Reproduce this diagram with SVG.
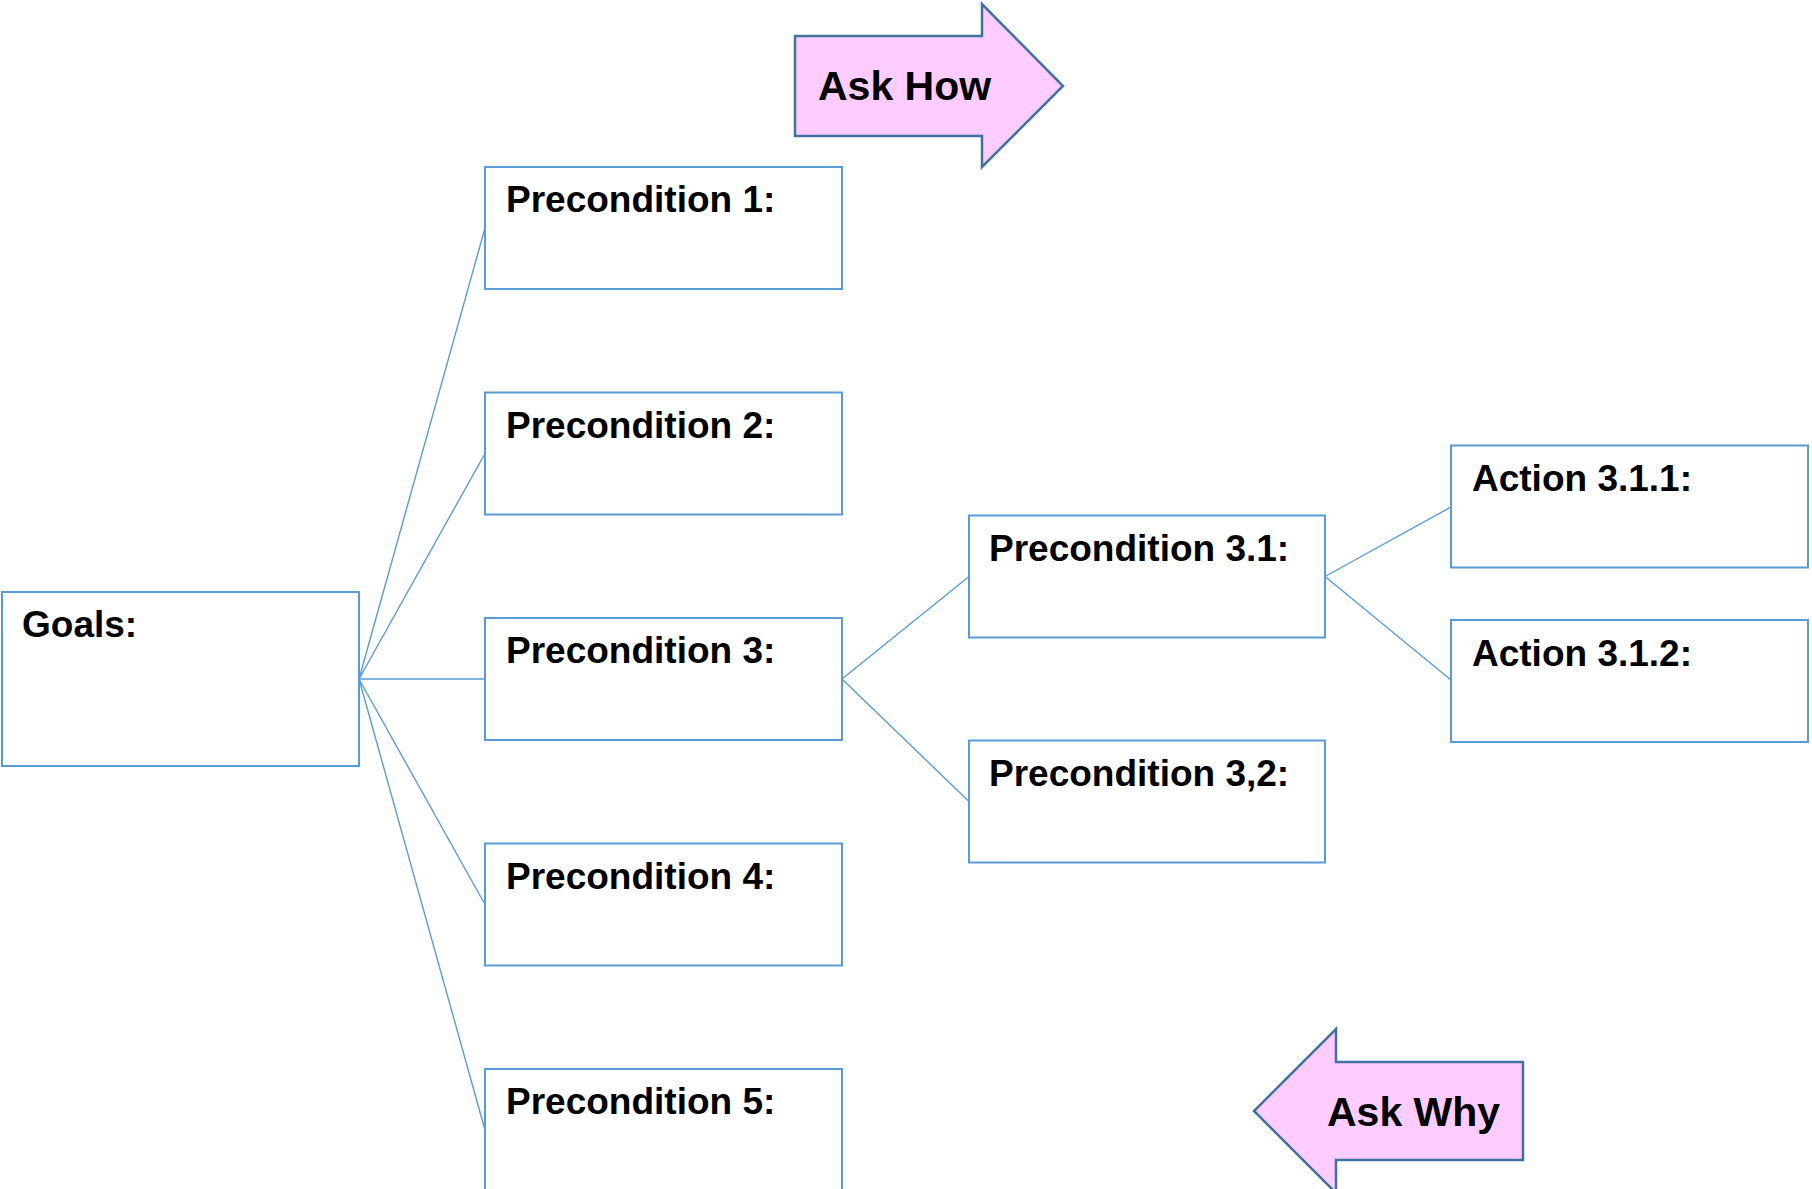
<svg xmlns="http://www.w3.org/2000/svg" width="1812" height="1189" viewBox="0 0 1812 1189">
  <style>
    .box { fill: #ffffff; stroke: #5b9bd5; stroke-width: 2; }
    .lbl { font-family: "Liberation Sans", Arial, sans-serif; font-weight: bold; font-size: 37px; fill: #000000; }
    .big { font-family: "Liberation Sans", Arial, sans-serif; font-weight: bold; font-size: 41px; fill: #000000; }
    .conn line { stroke: #5b9bd5; stroke-width: 1.4; }
    .arrow { fill: #ffccff; stroke: #41719c; stroke-width: 2.5; stroke-linejoin: miter; }
  </style>

  <!-- connectors -->
  <g id="connectors" class="conn">
    <line x1="359" y1="679" x2="485" y2="228"/>
    <line x1="359" y1="679" x2="485" y2="453.5"/>
    <line x1="359" y1="679" x2="485" y2="679"/>
    <line x1="359" y1="679" x2="485" y2="904.5"/>
    <line x1="359" y1="679" x2="485" y2="1130"/>
    <line x1="842" y1="679" x2="969" y2="576.5"/>
    <line x1="842" y1="679" x2="969" y2="801.5"/>
    <line x1="1325" y1="576.5" x2="1451" y2="507"/>
    <line x1="1325" y1="576.5" x2="1451" y2="680"/>
  </g>

  <!-- Ask How arrow -->
  <g id="ask-how">
    <polygon class="arrow" points="795,36 982,36 982,4 1063,86 982,167 982,136 795,136"/>
    <text class="big" x="818" y="100">Ask How</text>
  </g>

  <!-- Ask Why arrow -->
  <g id="ask-why">
    <polygon class="arrow" points="1523,1062 1336,1062 1336,1029 1254,1111 1336,1193 1336,1160 1523,1160"/>
    <text class="big" x="1327" y="1126">Ask Why</text>
  </g>

  <g id="goals">
    <rect class="box" x="2" y="592" width="357" height="174"/>
    <text class="lbl" x="22" y="637">Goals:</text>
  </g>

  <g id="precondition-1">
    <rect class="box" x="485" y="167" width="357" height="122"/>
    <text class="lbl" x="506" y="212">Precondition 1:</text>
  </g>
  <g id="precondition-2">
    <rect class="box" x="485" y="392.5" width="357" height="122"/>
    <text class="lbl" x="506" y="437.5">Precondition 2:</text>
  </g>
  <g id="precondition-3">
    <rect class="box" x="485" y="618" width="357" height="122"/>
    <text class="lbl" x="506" y="663">Precondition 3:</text>
  </g>
  <g id="precondition-4">
    <rect class="box" x="485" y="843.5" width="357" height="122"/>
    <text class="lbl" x="506" y="888.5">Precondition 4:</text>
  </g>
  <g id="precondition-5">
    <rect class="box" x="485" y="1069" width="357" height="122"/>
    <text class="lbl" x="506" y="1114">Precondition 5:</text>
  </g>

  <g id="precondition-3-1">
    <rect class="box" x="969" y="515.5" width="356" height="122"/>
    <text class="lbl" x="989" y="560.5">Precondition 3.1:</text>
  </g>
  <g id="precondition-3-2">
    <rect class="box" x="969" y="740.5" width="356" height="122"/>
    <text class="lbl" x="989" y="785.5">Precondition 3,2:</text>
  </g>

  <g id="action-3-1-1">
    <rect class="box" x="1451" y="445.5" width="357" height="122"/>
    <text class="lbl" x="1472" y="491">Action 3.1.1:</text>
  </g>
  <g id="action-3-1-2">
    <rect class="box" x="1451" y="620" width="357" height="122"/>
    <text class="lbl" x="1472" y="665.5">Action 3.1.2:</text>
  </g>
</svg>
